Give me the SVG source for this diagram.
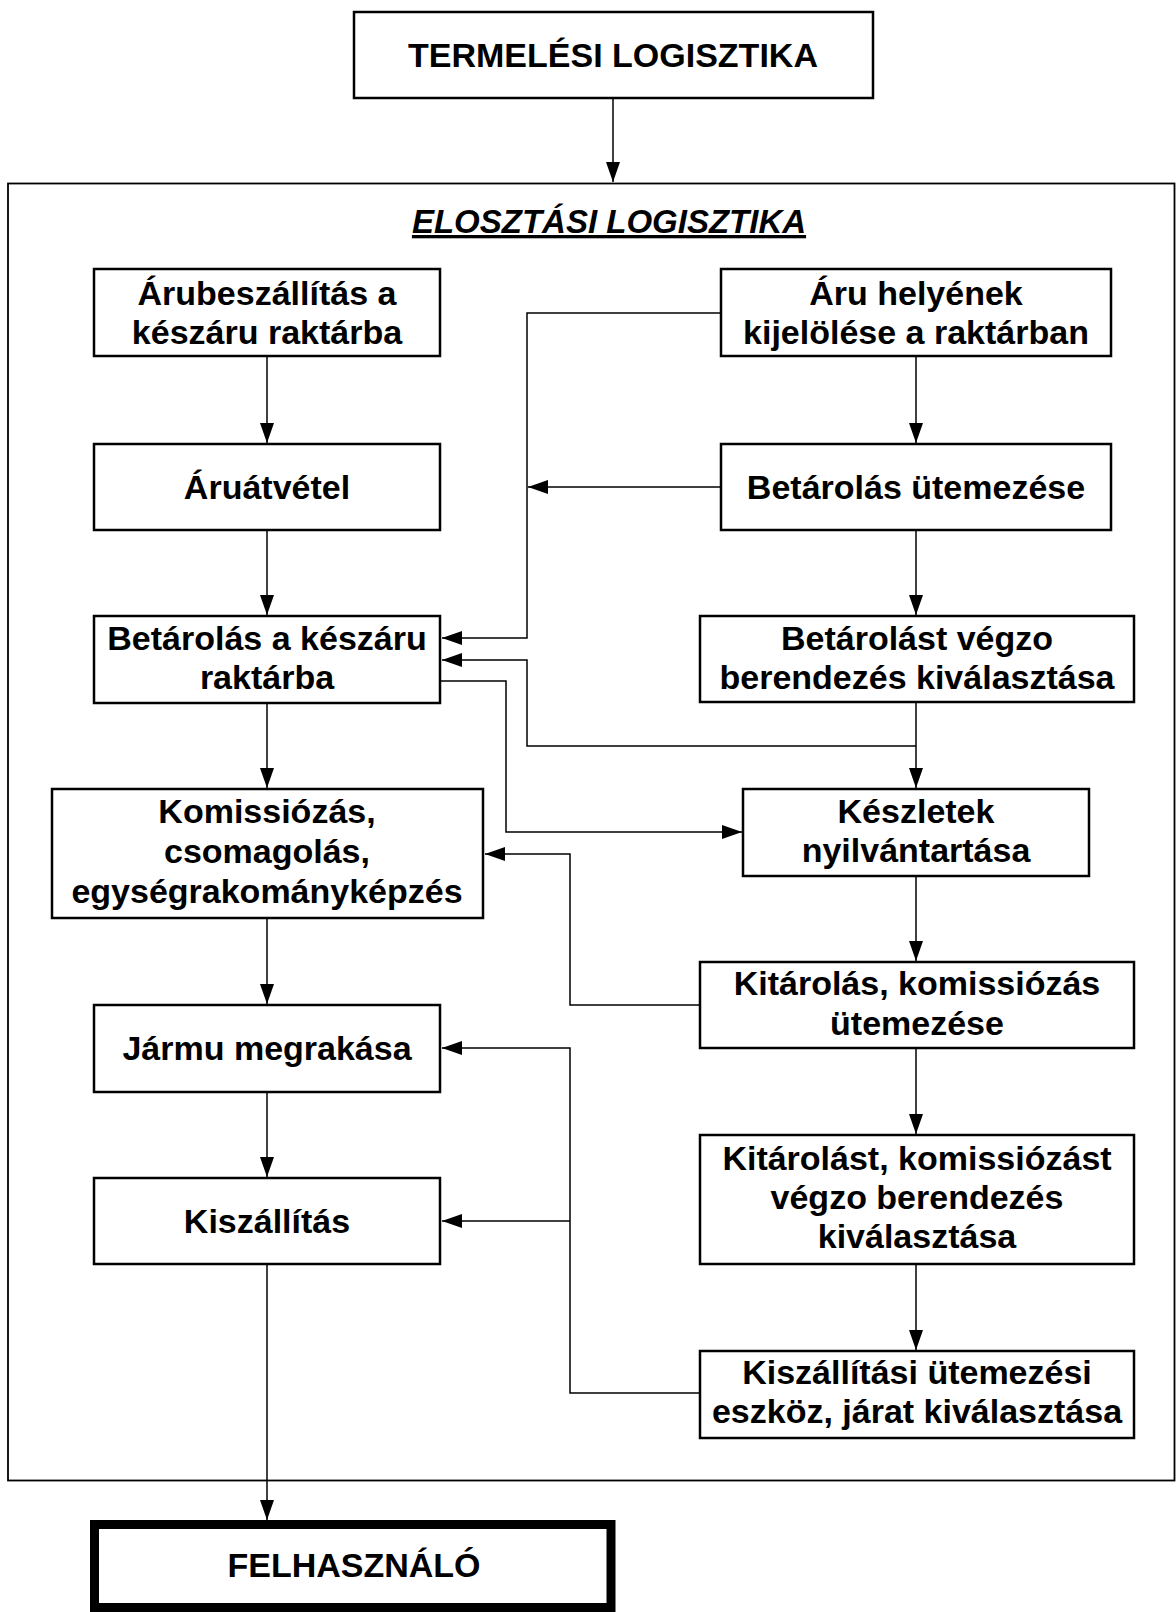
<svg xmlns="http://www.w3.org/2000/svg" width="1176" height="1612" viewBox="0 0 1176 1612">
<defs>
<marker id="ah" markerUnits="userSpaceOnUse" markerWidth="22" markerHeight="16" refX="20" refY="7" orient="auto">
<path d="M0,0 L20,7 L0,14 z" fill="#000"/>
</marker>
<style>
.box{fill:#fff;stroke:#000;stroke-width:2.5}
.t{font-family:"Liberation Sans",Arial,sans-serif;font-weight:bold;font-size:34px;text-anchor:middle;fill:#000}
.c{fill:none;stroke:#000;stroke-width:1.5}
.a{marker-end:url(#ah)}
</style>
</defs>
<rect width="1176" height="1612" fill="#fff"/>
<g id="outer">
<rect x="8" y="183.5" width="1166.5" height="1297" fill="none" stroke="#000" stroke-width="1.8"/>
<text class="t" x="609" y="233" font-style="italic" text-decoration="underline" style="font-size:33px">ELOSZTÁSI LOGISZTIKA</text>
</g>
<g id="connectors">
<path class="c a" d="M613,98 V182"/>
<path class="c a" d="M267,356 V443"/>
<path class="c a" d="M267,530 V615"/>
<path class="c a" d="M267,703 V788"/>
<path class="c a" d="M267,918 V1004"/>
<path class="c a" d="M267,1092 V1177"/>
<path class="c a" d="M267,1264 V1520"/>
<path class="c a" d="M916,356 V443"/>
<path class="c a" d="M916,530 V615"/>
<path class="c a" d="M916,702 V788"/>
<path class="c a" d="M916,876 V961"/>
<path class="c a" d="M916,1048 V1134"/>
<path class="c a" d="M916,1264 V1350"/>
<path class="c a" d="M721,313 H527 V638 H442"/>
<path class="c a" d="M721,487 H528"/>
<path class="c a" d="M916,746 H527 V660 H442"/>
<path class="c a" d="M440,681 H506 V832 H742"/>
<path class="c a" d="M700,1005 H570 V854 H485"/>
<path class="c a" d="M700,1393 H570 V1048 H442"/>
<path class="c a" d="M570,1221 H442"/>
</g>
<g id="termelesi">
<rect class="box" x="354" y="12" width="519" height="86"/>
<text class="t" x="613" y="67">TERMELÉSI LOGISZTIKA</text>
</g>
<g id="arubeszallitas">
<rect class="box" x="94" y="269" width="346" height="87"/>
<text class="t" x="267" y="305">Árubeszállítás a</text>
<text class="t" x="267" y="344">készáru raktárba</text>
</g>
<g id="aruatvetel">
<rect class="box" x="94" y="444" width="346" height="86"/>
<text class="t" x="267" y="499">Áruátvétel</text>
</g>
<g id="betarolas-keszaru">
<rect class="box" x="94" y="616" width="346" height="87"/>
<text class="t" x="267" y="650">Betárolás a készáru</text>
<text class="t" x="267" y="689">raktárba</text>
</g>
<g id="komissiozas">
<rect class="box" x="52" y="789" width="431" height="129"/>
<text class="t" x="267" y="823">Komissiózás,</text>
<text class="t" x="267" y="863">csomagolás,</text>
<text class="t" x="267" y="903">egységrakományképzés</text>
</g>
<g id="jarmu">
<rect class="box" x="94" y="1005" width="346" height="87"/>
<text class="t" x="267" y="1060">Jármu megrakása</text>
</g>
<g id="kiszallitas">
<rect class="box" x="94" y="1178" width="346" height="86"/>
<text class="t" x="267" y="1233">Kiszállítás</text>
</g>
<g id="felhasznalo">
<rect x="94.5" y="1524.5" width="516.5" height="83" fill="#fff" stroke="#000" stroke-width="9"/>
<text class="t" x="354" y="1577">FELHASZNÁLÓ</text>
</g>
<g id="aru-helyenek">
<rect class="box" x="721" y="269" width="390" height="87"/>
<text class="t" x="916" y="305">Áru helyének</text>
<text class="t" x="916" y="344">kijelölése a raktárban</text>
</g>
<g id="betarolas-utemezese">
<rect class="box" x="721" y="444" width="390" height="86"/>
<text class="t" x="916" y="499">Betárolás ütemezése</text>
</g>
<g id="betarolast-vegzo">
<rect class="box" x="700" y="616" width="434" height="86"/>
<text class="t" x="917" y="650">Betárolást végzo</text>
<text class="t" x="917" y="689">berendezés kiválasztása</text>
</g>
<g id="keszletek">
<rect class="box" x="743" y="789" width="346" height="87"/>
<text class="t" x="916" y="823">Készletek</text>
<text class="t" x="916" y="862">nyilvántartása</text>
</g>
<g id="kitarolas-utemezese">
<rect class="box" x="700" y="962" width="434" height="86"/>
<text class="t" x="917" y="995">Kitárolás, komissiózás</text>
<text class="t" x="917" y="1035">ütemezése</text>
</g>
<g id="kitarolast-vegzo">
<rect class="box" x="700" y="1135" width="434" height="129"/>
<text class="t" x="917" y="1170">Kitárolást, komissiózást</text>
<text class="t" x="917" y="1209">végzo berendezés</text>
<text class="t" x="917" y="1248">kiválasztása</text>
</g>
<g id="kiszallitasi-utemezesi">
<rect class="box" x="700" y="1351" width="434" height="87"/>
<text class="t" x="917" y="1384">Kiszállítási ütemezési</text>
<text class="t" x="917" y="1423">eszköz, járat kiválasztása</text>
</g>
</svg>
